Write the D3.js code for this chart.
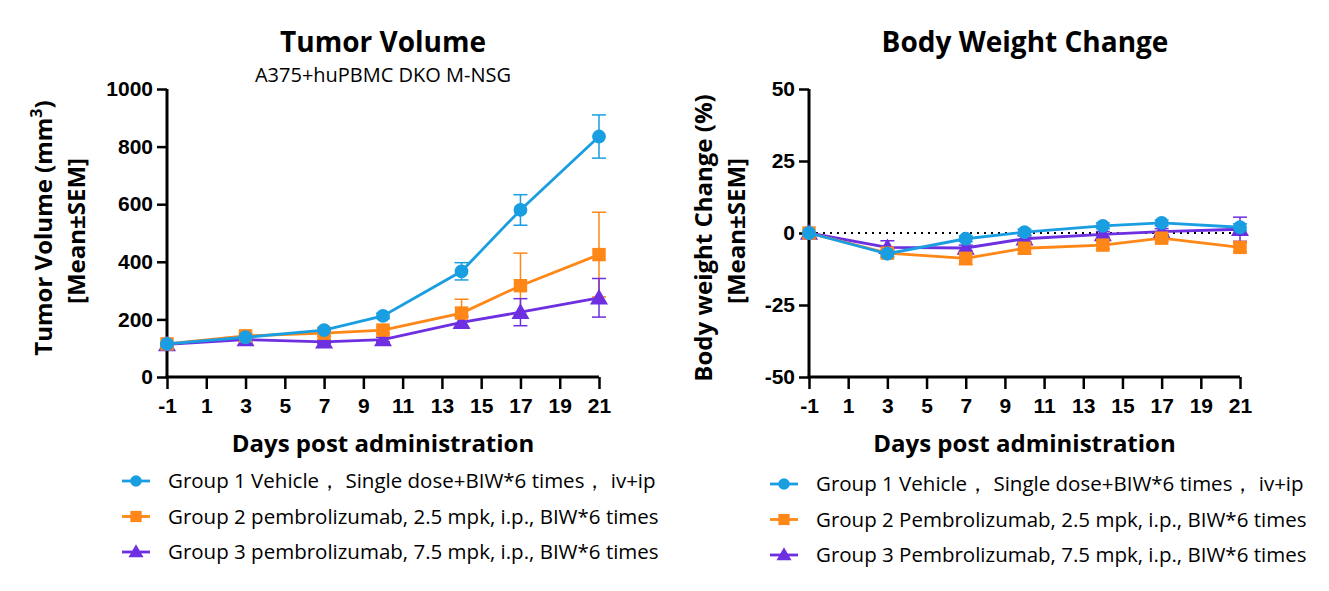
<!DOCTYPE html>
<html>
<head>
<meta charset="utf-8">
<script src="https://cdn.jsdelivr.net/npm/d3@7"></script>
<style>
  body { margin: 0; background: #fff; }
  svg text { font-family: "Open Sans", "Noto Sans", sans-serif; }
  .tick text { font-family: "Liberation Sans", sans-serif; font-weight: bold; }
</style>
</head>
<body>
<div id="chart"></div>
<script>
// -DATA-
const days = [-1, 3, 7, 10, 14, 17, 21];
const xTicks = [-1, 1, 3, 5, 7, 9, 11, 13, 15, 17, 19, 21];

// tumor volume (mm3), mean and SEM
const tvG1 = [115, 138, 163, 212, 367, 580, 835];
const tvG1Err = [5, 6, 7, 9, 30, 53, 75];
const tvG2 = [115, 143, 152, 163, 222, 317, 425];
const tvG2Err = [4, 8, 10, 12, 48, 113, 147];
const tvG3 = [113, 130, 122, 130, 190, 225, 275];
const tvG3Err = [4, 6, 6, 8, 20, 47, 67];
const tvTicks = [0, 200, 400, 600, 800, 1000];

// body weight change (%), mean and SEM
const bwG1 = [0, -7.2, -2.0, 0.3, 2.5, 3.5, 2.0];
const bwG1Err = [0, 1.2, 1.0, 1.0, 1.0, 1.0, 1.2];
const bwG2 = [0, -7.0, -8.8, -5.3, -4.2, -1.8, -5.0];
const bwG2Err = [0, 1.2, 2.2, 2.0, 1.3, 1.2, 1.5];
const bwG3 = [0, -5.0, -5.2, -2.0, -0.5, 0.5, 1.3];
const bwG3Err = [0, 2.3, 1.0, 1.0, 1.0, 1.0, 4.2];
const bwTicks = [-50, -25, 0, 25, 50];

const legendLeft = [
  "Group 1 Vehicle\uFF0C Single dose+BIW*6 times\uFF0C iv+ip",
  "Group 2 pembrolizumab, 2.5 mpk, i.p., BIW*6 times",
  "Group 3 pembrolizumab, 7.5 mpk, i.p., BIW*6 times"
];
const legendRight = [
  "Group 1 Vehicle\uFF0C Single dose+BIW*6 times\uFF0C iv+ip",
  "Group 2 Pembrolizumab, 2.5 mpk, i.p., BIW*6 times",
  "Group 3 Pembrolizumab, 7.5 mpk, i.p., BIW*6 times"
];

// colors
const blue = "#1a9ee2";
const orange = "#ff8717";
const purple = "#6d2fe0";
const colors = [blue, orange, purple];
const shapes = [d3.symbolCircle, d3.symbolSquare, d3.symbolTriangle];
const symSizes = [150, 180, 140];

const W = 1329, H = 591;
const svg = d3.select("#chart").append("svg")
  .attr("width", W)
  .attr("height", H);

function drawPanel(p) {
  const x = d3.scaleLinear().domain([-1, 21]).range([p.left, p.right]);
  const y = d3.scaleLinear().domain(p.yDomain).range([377, 89]);
  const g = svg.append("g");

  // title
  g.append("text")
    .attr("x", p.titleX).attr("y", 52)
    .attr("text-anchor", "middle")
    .attr("font-size", 28).attr("font-weight", "bold")
    .text(p.title);
  if (p.subtitle) {
    g.append("text")
      .attr("x", p.titleX).attr("y", 82)
      .attr("text-anchor", "middle")
      .attr("font-size", 20)
      .text(p.subtitle);
  }

  // zero line
  if (p.zeroLine) {
    g.append("line")
      .attr("x1", x(-1)).attr("x2", x(21))
      .attr("y1", y(0)).attr("y2", y(0))
      .attr("stroke", "#000").attr("stroke-width", 2)
      .attr("stroke-dasharray", "2,5");
  }

  // axes
  const fmt = d => String(d);
  const xAxis = d3.axisBottom(x).tickValues(xTicks).tickSize(12).tickPadding(9).tickFormat(fmt);
  const yAxis = d3.axisLeft(y).tickValues(p.yTicks).tickSize(10).tickPadding(4).tickFormat(fmt);
  const gx = g.append("g").attr("transform", "translate(0," + 377 + ")").call(xAxis);
  const gy = g.append("g").attr("transform", "translate(" + p.left + ",0)").call(yAxis);
  [gx, gy].forEach(a => {
    a.select(".domain").attr("stroke-width", 3).attr("stroke", "#000");
    a.selectAll(".tick line").attr("stroke-width", 2.5).attr("stroke", "#000");
    a.selectAll(".tick text").attr("font-size", 21).attr("fill", "#000");
  });
  gx.select(".domain").attr("d", "M" + (p.left - 1.5) + ",0H" + p.right);
  gy.select(".domain").attr("d", "M0," + 377 + "V" + 89);

  // axis titles
  g.append("text")
    .attr("x", (p.left + p.right) / 2).attr("y", 452)
    .attr("text-anchor", "middle")
    .attr("font-size", 24).attr("font-weight", "bold")
    .text("Days post administration");

  const yl = g.append("text")
    .attr("transform", "translate(" + p.yLabelX + "," + p.yLabelY + ") rotate(-90)")
    .attr("text-anchor", "middle")
    .attr("font-size", 24).attr("font-weight", "bold");
  yl.append("tspan").text(p.yLabel);
  if (p.yLabelSup) {
    yl.append("tspan").attr("dy", -10).attr("font-size", 16).text(p.yLabelSup);
    yl.append("tspan").attr("dy", 10).text(")");
  }
  g.append("text")
    .attr("transform", "translate(" + (p.yLabelX + 33) + ",231) rotate(-90)")
    .attr("text-anchor", "middle")
    .attr("font-size", 24).attr("font-weight", "bold")
    .text("[Mean\u00B1SEM]");

  // error bars
  p.series.forEach((s, i) => {
    const eg = g.append("g").attr("stroke", colors[i]).attr("stroke-width", 1.5);
    days.forEach((d, j) => {
      const e = s.err[j];
      if (!e) return;
      const cx = x(d);
      eg.append("line").attr("x1", cx).attr("x2", cx).attr("y1", y(s.val[j] - e)).attr("y2", y(s.val[j] + e));
      [s.val[j] - e, s.val[j] + e].forEach(v => {
        eg.append("line").attr("x1", cx - 7).attr("x2", cx + 7).attr("y1", y(v)).attr("y2", y(v));
      });
    });
  });

  // lines and markers, group 3 at the bottom
  const line = d3.line().x((d, j) => x(days[j])).y(d => y(d));
  [2, 1, 0].forEach(i => {
    const s = p.series[i];
    g.append("path")
      .attr("d", line(s.val))
      .attr("fill", "none")
      .attr("stroke", colors[i])
      .attr("stroke-width", 2.8);
    g.selectAll(null)
      .data(s.val)
      .enter()
      .append("path")
      .attr("d", d3.symbol(shapes[i], symSizes[i]))
      .attr("transform", (d, j) => "translate(" + x(days[j]) + "," + (y(d) + (i === 2 ? 1.5 : 0)) + ")")
      .attr("fill", colors[i]);
  });

  // legend
  p.legend.forEach((t, i) => {
    const ly = p.legendY + i * 35.5;
    g.append("line")
      .attr("x1", p.legendX).attr("x2", p.legendX + 28)
      .attr("y1", ly).attr("y2", ly)
      .attr("stroke", colors[i]).attr("stroke-width", 2.8);
    g.append("path")
      .attr("d", d3.symbol(shapes[i], symSizes[i] * 0.7))
      .attr("transform", "translate(" + (p.legendX + 14) + "," + (ly + (i === 2 ? 1 : 0)) + ")")
      .attr("fill", colors[i]);
    g.append("text")
      .attr("x", p.legendX + 46).attr("y", ly + 7)
      .attr("font-size", 20.5)
      .text(t);
  });
}

drawPanel({
  left: 167, right: 599, titleX: 383,
  title: "Tumor Volume", subtitle: "A375+huPBMC DKO M-NSG",
  yDomain: [0, 1000], yTicks: tvTicks,
  yLabel: "Tumor Volume (mm", yLabelSup: "3", yLabelX: 52, yLabelY: 228,
  zeroLine: false,
  series: [
    { val: tvG1, err: tvG1Err },
    { val: tvG2, err: tvG2Err },
    { val: tvG3, err: tvG3Err }
  ],
  legend: legendLeft, legendX: 122, legendY: 481
});

drawPanel({
  left: 809, right: 1240, titleX: 1025,
  title: "Body Weight Change", subtitle: null,
  yDomain: [-50, 50], yTicks: bwTicks,
  yLabel: "Body weight Change (%)", yLabelSup: null, yLabelX: 712, yLabelY: 238,
  zeroLine: true,
  series: [
    { val: bwG1, err: bwG1Err },
    { val: bwG2, err: bwG2Err },
    { val: bwG3, err: bwG3Err }
  ],
  legend: legendRight, legendX: 770, legendY: 484
});
</script>
</body>
</html>
